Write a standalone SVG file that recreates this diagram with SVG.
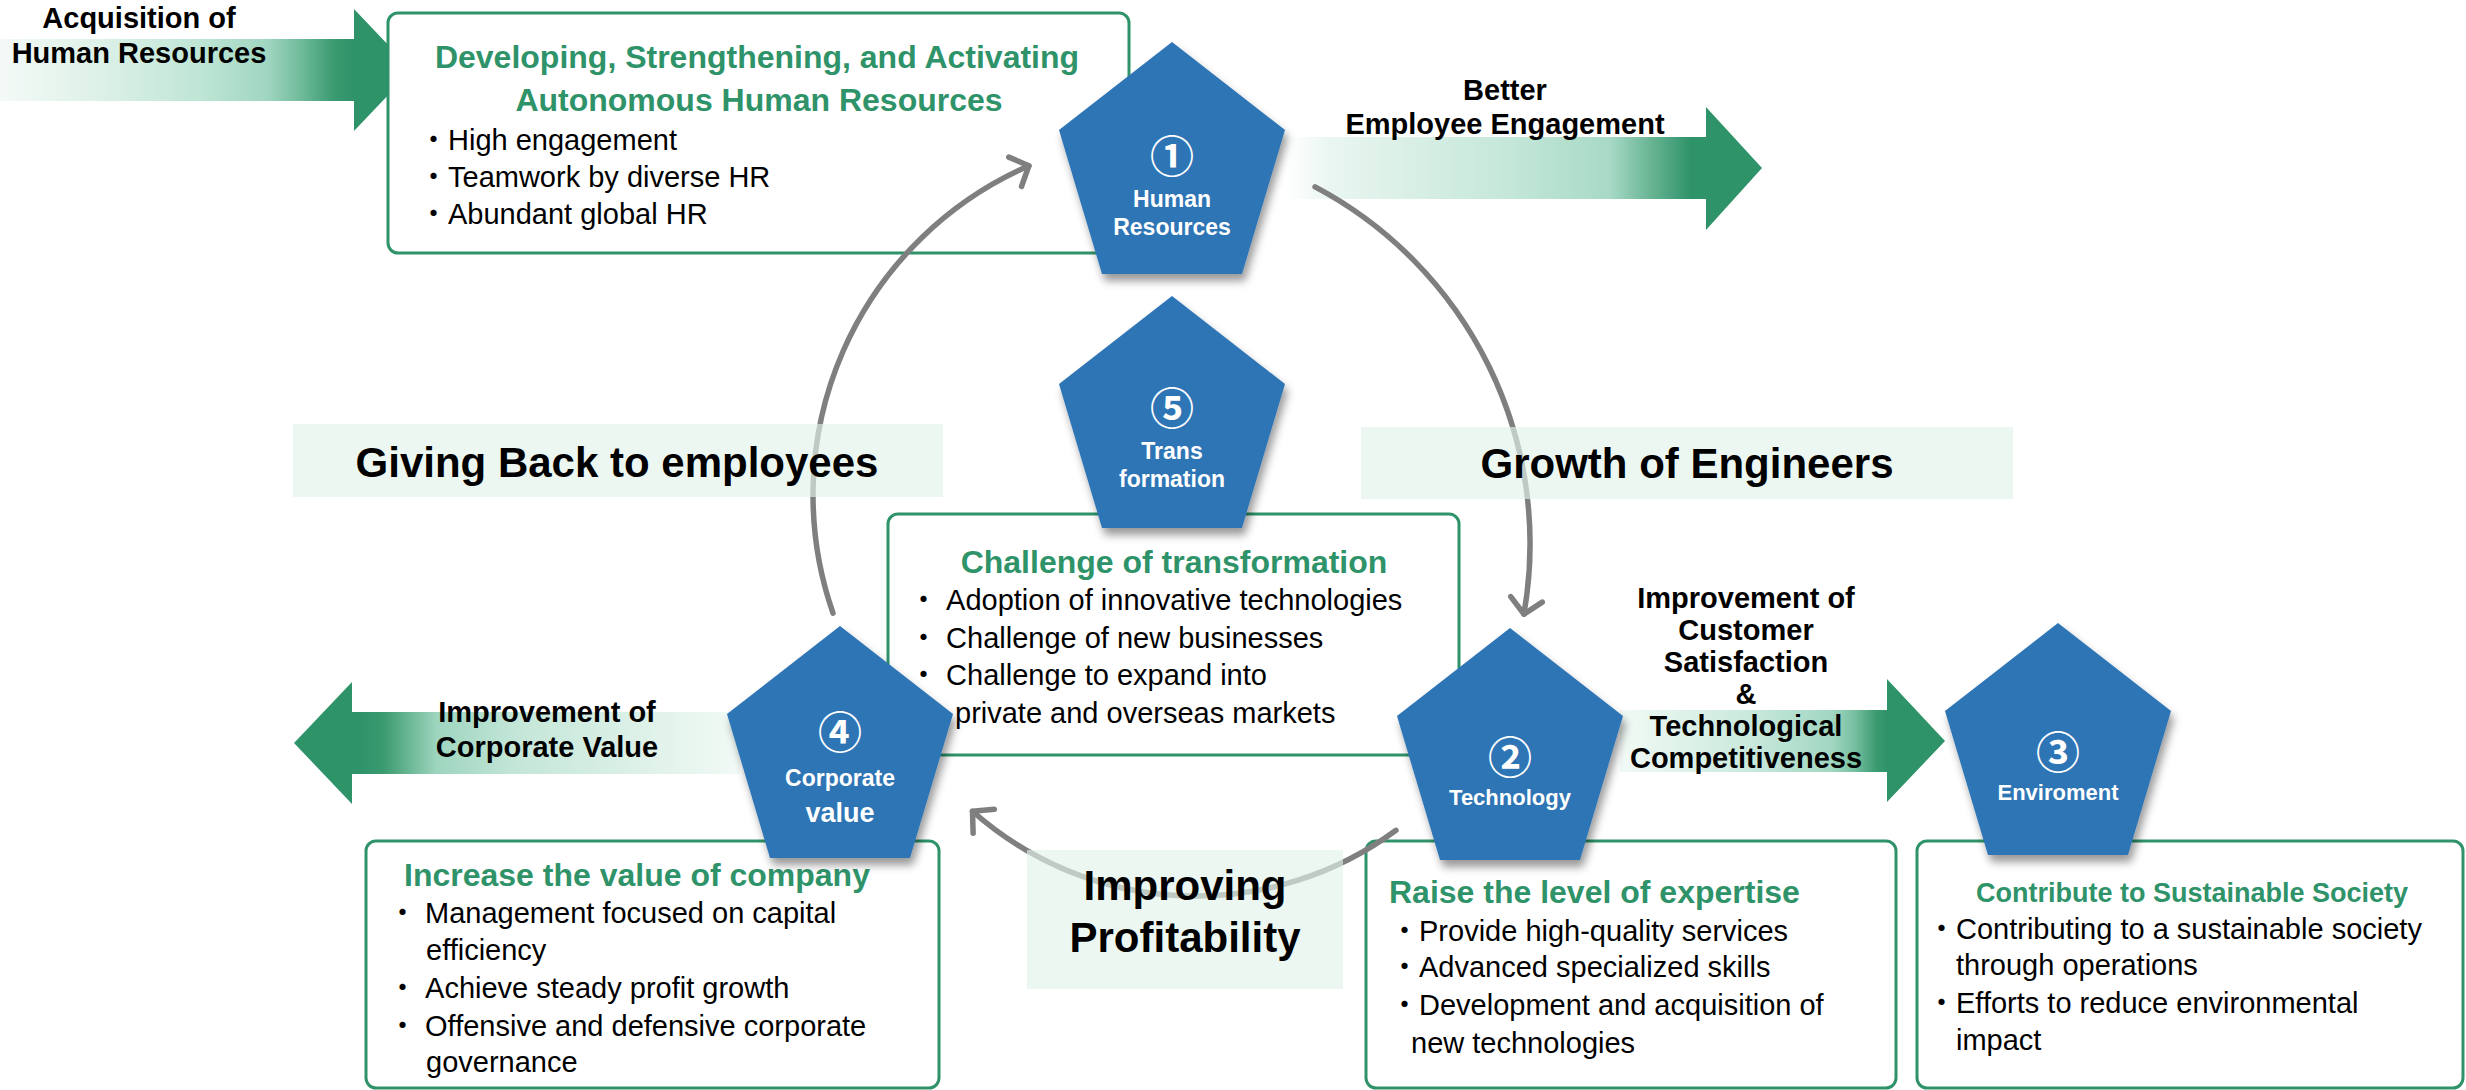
<svg xmlns="http://www.w3.org/2000/svg" width="2466" height="1090" viewBox="0 0 2466 1090">
<style>
text { font-family: "Liberation Sans", Arial, "Noto Sans CJK JP", sans-serif; }
.lbl { font-size: 29px; font-weight: bold; fill: #000; text-anchor: middle; }
.big { font-size: 42px; font-weight: bold; fill: #000; text-anchor: middle; }
.ttl { font-size: 32px; font-weight: bold; fill: #2F936A; }
.body { font-size: 29px; fill: #000; }
.box { fill: #fff; stroke: #2F936A; stroke-width: 3; }
.band { fill: #E3F3EB; fill-opacity: 0.65; }
.pent { fill: #2E74B5; filter: url(#shadow); }
.pnum { font-family: "Noto Sans CJK JP", sans-serif; font-size: 44px; font-weight: bold; fill: #fff; text-anchor: middle; dominant-baseline: central; }
.ptxt { font-size: 23px; font-weight: bold; fill: #fff; text-anchor: middle; }
.arc { fill: none; stroke: #7F7F7F; stroke-width: 5.5; stroke-linecap: round; marker-end: url(#chev); }
</style>
<defs>
<filter id="shadow" x="-20%" y="-20%" width="140%" height="140%">
<feDropShadow dx="3" dy="7" stdDeviation="4" flood-color="#000" flood-opacity="0.4"/>
</filter>
<marker id="chev" markerUnits="userSpaceOnUse" viewBox="-20 -20 40 40" markerWidth="40" markerHeight="40" refX="0" refY="0" orient="auto" overflow="visible">
<path d="M-15,-16 L0,0 L-15,16" fill="none" stroke="#7F7F7F" stroke-width="5.5" stroke-linecap="round" stroke-linejoin="round"/>
</marker>
<linearGradient id="gTL" gradientUnits="userSpaceOnUse" x1="0" y1="0" x2="412" y2="0">
<stop offset="0" stop-color="#F4FAF7"/>
<stop offset="0.24" stop-color="#DDF1E8"/>
<stop offset="0.49" stop-color="#BEE5D5"/>
<stop offset="0.65" stop-color="#A0D6C1"/>
<stop offset="0.73" stop-color="#70BB9B"/>
<stop offset="0.81" stop-color="#3A9A70"/>
<stop offset="0.86" stop-color="#2F936A"/>
<stop offset="1" stop-color="#2F936A"/>
</linearGradient>
<linearGradient id="gBE" gradientUnits="userSpaceOnUse" x1="1286" y1="0" x2="1762" y2="0">
<stop offset="0" stop-color="#FFFFFF"/>
<stop offset="0.09" stop-color="#EAF6F1"/>
<stop offset="0.45" stop-color="#C6E8DA"/>
<stop offset="0.68" stop-color="#A8DAC6"/>
<stop offset="0.76" stop-color="#6DB797"/>
<stop offset="0.85" stop-color="#2F936A"/>
<stop offset="1" stop-color="#2F936A"/>
</linearGradient>
<linearGradient id="gCV" gradientUnits="userSpaceOnUse" x1="740" y1="0" x2="294" y2="0">
<stop offset="0" stop-color="#F2FAF6"/>
<stop offset="0.5" stop-color="#C4E6D8"/>
<stop offset="0.68" stop-color="#9ED5BF"/>
<stop offset="0.74" stop-color="#6CB896"/>
<stop offset="0.8" stop-color="#3A9A70"/>
<stop offset="0.85" stop-color="#2F936A"/>
<stop offset="1" stop-color="#2F936A"/>
</linearGradient>
<linearGradient id="gCS" gradientUnits="userSpaceOnUse" x1="1620" y1="0" x2="1945" y2="0">
<stop offset="0" stop-color="#F2FAF6"/>
<stop offset="0.4" stop-color="#C9E9DC"/>
<stop offset="0.65" stop-color="#A2D7C2"/>
<stop offset="0.72" stop-color="#78C0A2"/>
<stop offset="0.79" stop-color="#3A9A70"/>
<stop offset="0.82" stop-color="#2F936A"/>
<stop offset="1" stop-color="#2F936A"/>
</linearGradient>
</defs>

<g id="arrow-acquisition">
<polygon points="0,39 354,39 354,9 412,70 354,131 354,101 0,101" fill="url(#gTL)"/>
<text class="lbl" x="139" y="28">Acquisition of</text>
<text class="lbl" x="139" y="63">Human Resources</text>
</g>

<g id="arrow-engagement">
<polygon points="1286,137 1706,137 1706,107 1762,168 1706,230 1706,199 1286,199" fill="url(#gBE)"/>
</g>

<g id="arrow-corporate-value">
<polygon points="740,712 352,712 352,682 294,743 352,804 352,774 740,774" fill="url(#gCV)"/>
</g>

<g id="arrow-customer">
<polygon points="1620,710 1887,710 1887,679 1945,741 1887,802 1887,772 1620,772" fill="url(#gCS)"/>
</g>

<g id="box-hr">
<rect class="box" x="388" y="13" width="741" height="240" rx="10"/>
<text class="ttl" x="757" y="68" text-anchor="middle">Developing, Strengthening, and Activating</text>
<text class="ttl" x="759" y="111" text-anchor="middle">Autonomous Human Resources</text>
<text class="body" x="419" y="150">・High engagement</text>
<text class="body" x="419" y="187">・Teamwork by diverse HR</text>
<text class="body" x="419" y="224">・Abundant global HR</text>
</g>

<g id="box-transformation">
<rect class="box" x="888" y="514" width="571" height="241" rx="10"/>
<text class="ttl" x="1174" y="573" text-anchor="middle">Challenge of transformation</text>
<text class="body" x="909" y="610">・ Adoption of innovative technologies</text>
<text class="body" x="909" y="648">・ Challenge of new businesses</text>
<text class="body" x="909" y="685">・ Challenge to expand into</text>
<text class="body" x="955" y="723">private and overseas markets</text>
</g>

<g id="box-value">
<rect class="box" x="366" y="841" width="573" height="247" rx="10"/>
<text class="ttl" x="404" y="886">Increase the value of company</text>
<text class="body" x="388" y="923">・ Management focused on capital</text>
<text class="body" x="426" y="960">efficiency</text>
<text class="body" x="388" y="998">・ Achieve steady profit growth</text>
<text class="body" x="388" y="1036">・ Offensive and defensive corporate</text>
<text class="body" x="426" y="1072">governance</text>
</g>

<g id="box-expertise">
<rect class="box" x="1366" y="841" width="530" height="247" rx="10"/>
<text class="ttl" x="1389" y="903">Raise the level of expertise</text>
<text class="body" x="1390" y="941">・Provide high-quality services</text>
<text class="body" x="1390" y="977">・Advanced specialized skills</text>
<text class="body" x="1390" y="1015">・Development and acquisition of</text>
<text class="body" x="1411" y="1053">new technologies</text>
</g>

<g id="box-society">
<rect class="box" x="1917" y="841" width="546" height="247" rx="10"/>
<text class="ttl" x="2192" y="902" text-anchor="middle" style="font-size:27px">Contribute to Sustainable Society</text>
<text class="body" x="1927" y="939">・Contributing to a sustainable society</text>
<text class="body" x="1956" y="975">through operations</text>
<text class="body" x="1927" y="1013">・Efforts to reduce environmental</text>
<text class="body" x="1956" y="1050">impact</text>
</g>

<g id="connectors">
<path class="arc" d="M1315.1,186.9 A404,404 0 0 1 1523.9,614.1"/>
<path class="arc" d="M1396,830.3 A337,337 0 0 1 972.5,811.3"/>
<path class="arc" d="M833,613.1 A359,359 0 0 1 1028.9,165.8"/>
</g>

<g id="label-giving-back">
<rect class="band" x="293" y="424" width="650" height="73"/>
<text class="big" x="617" y="477">Giving Back to employees</text>
</g>

<g id="label-growth">
<rect class="band" x="1361" y="427" width="652" height="72"/>
<text class="big" x="1687" y="478">Growth of Engineers</text>
</g>

<g id="label-profitability">
<rect class="band" x="1027" y="850" width="316" height="139"/>
<text class="big" x="1185" y="900">Improving</text>
<text class="big" x="1185" y="952">Profitability</text>
</g>

<g id="arrow-labels">
<text class="lbl" x="1505" y="100">Better</text>
<text class="lbl" x="1505" y="134">Employee Engagement</text>
<text class="lbl" x="547" y="722">Improvement of</text>
<text class="lbl" x="547" y="757">Corporate Value</text>
<text class="lbl" x="1746" y="608">Improvement of</text>
<text class="lbl" x="1746" y="640">Customer</text>
<text class="lbl" x="1746" y="672">Satisfaction</text>
<text class="lbl" x="1746" y="704">&amp;</text>
<text class="lbl" x="1746" y="736">Technological</text>
<text class="lbl" x="1746" y="768">Competitiveness</text>
</g>

<g id="node-human-resources">
<polygon class="pent" points="1172,42 1285,130 1242,274 1102,274 1059,130"/>
<text class="pnum" x="1172" y="154">①</text>
<text class="ptxt" x="1172" y="207">Human</text>
<text class="ptxt" x="1172" y="235">Resources</text>
</g>

<g id="node-transformation">
<polygon class="pent" points="1172,296 1285,384 1242,528 1102,528 1059,384"/>
<text class="pnum" x="1172" y="406">⑤</text>
<text class="ptxt" x="1172" y="459">Trans</text>
<text class="ptxt" x="1172" y="487">formation</text>
</g>

<g id="node-corporate-value">
<polygon class="pent" points="840,626 953,714 910,858 770,858 727,714"/>
<text class="pnum" x="840" y="730">④</text>
<text class="ptxt" x="840" y="786">Corporate</text>
<text class="ptxt" x="840" y="822" style="font-size:27px">value</text>
</g>

<g id="node-technology">
<polygon class="pent" points="1510,628 1623,716 1580,860 1440,860 1397,716"/>
<text class="pnum" x="1510" y="755">②</text>
<text class="ptxt" x="1510" y="805" style="font-size:22px">Technology</text>
</g>

<g id="node-environment">
<polygon class="pent" points="2058,623 2171,711 2128,855 1988,855 1945,711"/>
<text class="pnum" x="2058" y="750">③</text>
<text class="ptxt" x="2058" y="800" style="font-size:22px">Enviroment</text>
</g>
</svg>
